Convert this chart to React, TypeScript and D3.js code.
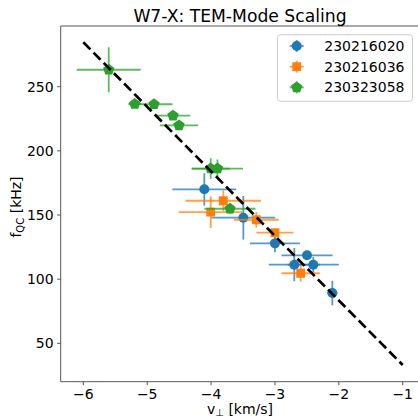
import React from "react";
import * as d3 from "d3";

const seriesNames = ["230216020", "230216036", "230323058"];
const seriesColors = ["#1f77b4", "#ff7f0e", "#2ca02c"];

const blueV = [-4.106, -3.495, -3.0, -2.498, -2.697, -2.4, -2.102];
const blueF = [170.0, 147.9, 127.9, 118.6, 111.3, 111.3, 89.2];
const blueVErr = [0.5, 0.5, 0.39, 0.4, 0.4, 0.4, 0.08];
const blueFErr = [12.6, 17, 7, 3, 13, 6, 9.5];

const orangeV = [-3.808, -4.006, -3.292, -3.0, -2.597];
const orangeF = [161.1, 152.3, 146.3, 136.2, 104.6];
const orangeVErr = [0.59, 0.5, 0.35, 0.29, 0.3];
const orangeFErr = [8, 12.4, 6, 3, 6.5];

const greenV = [-5.602, -5.195, -4.893, -4.596, -4.502, -4.006, -3.9, -3.704];
const greenF = [263.2, 236.5, 236.3, 227.4, 219.9, 186.2, 186.2, 154.9];
const greenVErr = [0.5, 0.1, 0.29, 0.27, 0.3, 0.3, 0.4, 0.4];
const greenFErr = [17.6, 3, 2, 2, 2, 8, 7, 4];

const fitSlope = -50.3;
const fitIntercept = -17.2;
const fitRange = [-6, -1];

const xTicks = [-6, -5, -4, -3, -2, -1];
const yTicks = [50, 100, 150, 200, 250];

const W = 418;
const H = 419;
const left = 60.7;
const right = 430;
const top = 26;
const bottom = 381.7;

const x = d3.scaleLinear().domain([-6.354, -0.573]).range([left, right]);
const y = d3.scaleLinear().domain([20.1, 297.3]).range([bottom, top]);

const pentagon = {
  draw(ctx: any, size: number) {
    const r = Math.sqrt(size / 2.378);
    for (let i = 0; i < 5; i++) {
      const a = -Math.PI / 2 + (i * 2 * Math.PI) / 5;
      const px = r * Math.cos(a);
      const py = r * Math.sin(a);
      if (i === 0) ctx.moveTo(px, py);
      else ctx.lineTo(px, py);
    }
    ctx.closePath();
  },
};

const symbolTypes: any[] = [d3.symbolCircle, d3.symbolSquare, pentagon];
const symbolSizes = [78, 78, 84];

const series = [
  { v: blueV, f: blueF, ve: blueVErr, fe: blueFErr },
  { v: orangeV, f: orangeF, ve: orangeVErr, fe: orangeFErr },
  { v: greenV, f: greenF, ve: greenVErr, fe: greenFErr },
];

const font = "DejaVu Sans, sans-serif";

export default function App() {
  const fitLine = d3
    .line<number>()
    .x((v) => x(v))
    .y((v) => y(fitSlope * v + fitIntercept));

  return (
    <svg
      width={W}
      height={H}
      style={{ position: "absolute", left: 0, top: 0, background: "#fff" }}
      fontFamily={font}
    >
      <rect x={0} y={0} width={W} height={H} fill="#fff" />
      <defs>
        <clipPath id="plotclip">
          <rect x={left} y={top} width={right - left} height={bottom - top} />
        </clipPath>
      </defs>

      <g clipPath="url(#plotclip)">
        {series.map((s, si) => (
          <g key={si}>
            {s.v.map((v, i) => (
              <g key={i} stroke={seriesColors[si]} strokeWidth={1.8} strokeOpacity={0.75}>
                <line x1={x(v - s.ve[i])} x2={x(v + s.ve[i])} y1={y(s.f[i])} y2={y(s.f[i])} />
                <line x1={x(v)} x2={x(v)} y1={y(s.f[i] - s.fe[i])} y2={y(s.f[i] + s.fe[i])} />
              </g>
            ))}
            {s.v.map((v, i) => (
              <path
                key={"m" + i}
                d={d3.symbol().type(symbolTypes[si]).size(symbolSizes[si])() as string}
                transform={`translate(${x(v)},${y(s.f[i])})`}
                fill={seriesColors[si]}
              />
            ))}
          </g>
        ))}
        <path
          d={fitLine(fitRange) as string}
          fill="none"
          stroke="#000"
          strokeWidth={2.7}
          strokeDasharray="10 4.5"
        />
      </g>

      {/* spines */}
      <g stroke="#555" strokeWidth={1} fill="none">
        <line x1={left} x2={right} y1={top} y2={top} />
        <line x1={left} x2={right} y1={bottom} y2={bottom} />
        <line x1={left} x2={left} y1={top} y2={bottom} />
      </g>

      {/* x ticks */}
      {xTicks.map((t) => (
        <g key={t}>
          <line x1={x(t)} x2={x(t)} y1={bottom} y2={bottom + 3.5} stroke="#555" strokeWidth={1} />
          <text x={x(t)} y={bottom + 17} textAnchor="middle" fontSize={14} fill="#000">
            {"\u2212" + Math.abs(t)}
          </text>
        </g>
      ))}
      {/* y ticks */}
      {yTicks.map((t) => (
        <g key={t}>
          <line x1={left - 3.5} x2={left} y1={y(t)} y2={y(t)} stroke="#555" strokeWidth={1} />
          <text x={left - 7} y={y(t)} dy="0.36em" textAnchor="end" fontSize={14} fill="#000">
            {t}
          </text>
        </g>
      ))}

      {/* axis labels */}
      <text x={240} y={414} textAnchor="middle" fontSize={14} fill="#000">
        v<tspan fontSize={10} dy={2}>{"\u22A5"}</tspan>
        <tspan dy={-2}>{" [km/s]"}</tspan>
      </text>
      <text
        transform={`translate(20.5,${207}) rotate(-90)`}
        textAnchor="middle"
        fontSize={14}
        fill="#000"
      >
        f<tspan fontSize={10} dy={3}>QC</tspan>
        <tspan dy={-3}>{" [kHz]"}</tspan>
      </text>

      {/* title */}
      <text x={240} y={22} textAnchor="middle" fontSize={17.2} fill="#000">
        W7-X: TEM-Mode Scaling
      </text>

      {/* legend */}
      <g>
        <rect
          x={277.5}
          y={34.7}
          width={135}
          height={66.6}
          rx={3}
          fill="#fff"
          fillOpacity={0.8}
          stroke="#ccc"
          strokeWidth={1}
        />
        {seriesNames.map((n, i) => {
          const ly = 46 + i * 20.7;
          const lx = 296.7;
          return (
            <g key={n}>
              <g stroke={seriesColors[i]} strokeWidth={1.8} strokeOpacity={0.75}>
                <line x1={lx - 7} x2={lx + 7} y1={ly} y2={ly} />
                <line x1={lx} x2={lx} y1={ly - 6} y2={ly + 6} />
              </g>
              <path
                d={d3.symbol().type(symbolTypes[i]).size(symbolSizes[i])() as string}
                transform={`translate(${lx},${ly})`}
                fill={seriesColors[i]}
              />
              <text x={324.3} y={ly} dy="0.36em" fontSize={14} fill="#000">
                {n}
              </text>
            </g>
          );
        })}
      </g>
    </svg>
  );
}
